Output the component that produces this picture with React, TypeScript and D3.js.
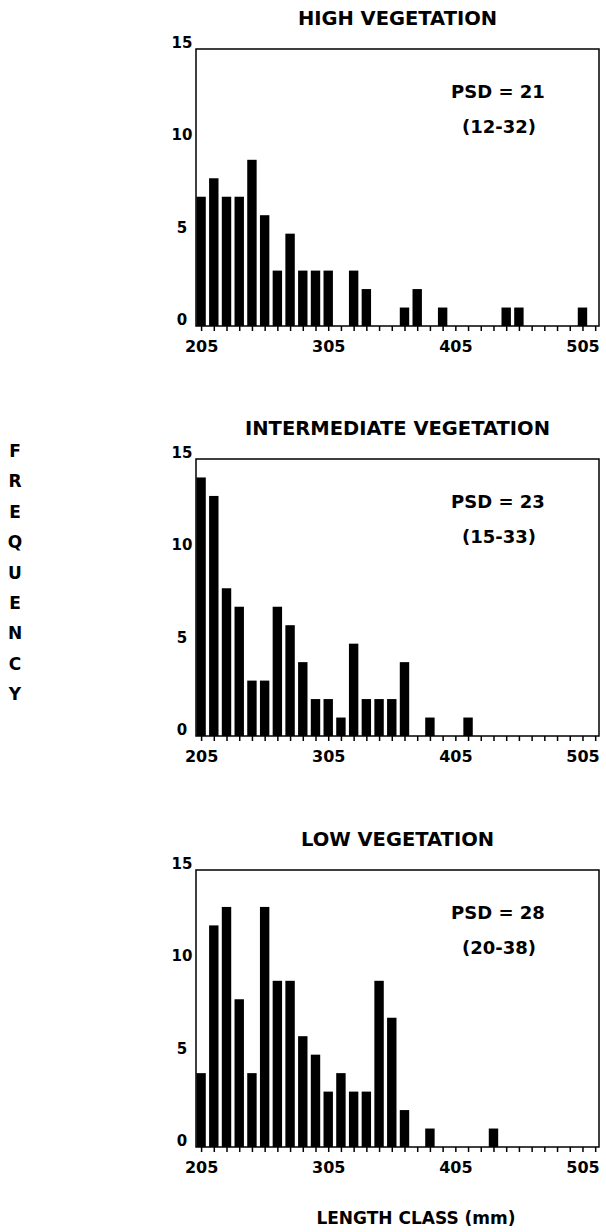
import React, { useEffect, useRef } from 'react'
import * as d3 from 'd3'

// length class centres (mm), one bar per 10 mm class
const lengthClasses = d3.range(205, 506, 10)
const xTickValues = d3.range(205, 516, 10)
const xLabelValues = [205, 305, 405, 505]
const yTickValues = [0, 5, 10, 15]

const panelTitles = ['HIGH VEGETATION', 'INTERMEDIATE VEGETATION', 'LOW VEGETATION']
const psdValues = ['PSD = 21', 'PSD = 23', 'PSD = 28']
const psdRanges = ['(12-32)', '(15-33)', '(20-38)']

const highVeg = [7, 8, 7, 7, 9, 6, 3, 5, 3, 3, 3, 0, 3, 2, 0, 0, 1, 2, 0, 1, 0, 0, 0, 0, 1, 1, 0, 0, 0, 0, 1]
const intermediateVeg = [14, 13, 8, 7, 3, 3, 7, 6, 4, 2, 2, 1, 5, 2, 2, 2, 4, 0, 1, 0, 0, 1, 0, 0, 0, 0, 0, 0, 0, 0, 0]
const lowVeg = [4, 12, 13, 8, 4, 13, 9, 9, 6, 5, 3, 4, 3, 3, 9, 7, 2, 0, 1, 0, 0, 0, 0, 1, 0, 0, 0, 0, 0, 0, 0]

const series = [highVeg, intermediateVeg, lowVeg]

const W = 606
const H = 1232
const left = 196
const right = 599
const panelTops = [49, 459, 870]
const plotH = 277
const FONT = '"DejaVu Sans", Arial, sans-serif'

const App = () => {
  const svgRef = useRef<SVGSVGElement>(null)

  useEffect(() => {
    const svg = d3.select(svgRef.current)
    svg.selectAll('*').remove()

    const x = d3.scaleLinear().domain([201, 518]).range([left, right])
    const barW = (x(215) - x(205)) * 0.74

    series.forEach((values, i) => {
      const top = panelTops[i]
      const bottom = top + plotH
      const y = d3.scaleLinear().domain([0, 15]).range([bottom, top])
      const g = svg.append('g')

      // title
      g.append('text')
        .attr('x', (left + right) / 2)
        .attr('y', top - 24)
        .attr('text-anchor', 'middle')
        .attr('font-size', 19.5)
        .attr('font-weight', 'bold')
        .text(panelTitles[i])

      // bars
      g.selectAll('.bar')
        .data(values.map((v, j) => ({ len: lengthClasses[j], v })).filter(d => d.v > 0))
        .join('rect')
        .attr('class', 'bar')
        .attr('x', d => x(d.len) - barW / 2)
        .attr('y', d => y(d.v))
        .attr('width', barW)
        .attr('height', d => bottom - y(d.v))
        .attr('fill', '#000')

      // frame
      g.append('rect')
        .attr('x', left)
        .attr('y', top)
        .attr('width', right - left)
        .attr('height', plotH)
        .attr('fill', 'none')
        .attr('stroke', '#000')
        .attr('stroke-width', 1.5)

      // x axis
      const xAxis = d3.axisBottom(x)
        .tickValues(xTickValues)
        .tickSize(5)
        .tickPadding(10)
        .tickFormat(d => (xLabelValues.includes(+d) ? String(d) : ''))
      const xg = g.append('g').attr('transform', `translate(0,${bottom})`).call(xAxis)
      xg.select('.domain').remove()
      xg.selectAll('line').attr('stroke-width', 1.5)
      xg.selectAll('text')
        .attr('font-size', 16)
        .attr('font-weight', 'bold')
        .attr('font-family', FONT)
        .attr('fill', '#000')

      // y axis labels
      g.selectAll('.ylab')
        .data(yTickValues)
        .join('text')
        .attr('class', 'ylab')
        .attr('x', 182)
        .attr('y', d => y(d) - 1)
        .attr('text-anchor', 'middle')
        .attr('font-size', 15)
        .attr('font-weight', 'bold')
        .text(d => d)

      // PSD annotation
      g.append('text')
        .attr('x', 498)
        .attr('y', top + 49)
        .attr('text-anchor', 'middle')
        .attr('font-size', 18)
        .attr('font-weight', 'bold')
        .text(psdValues[i])
      g.append('text')
        .attr('x', 499)
        .attr('y', top + 84)
        .attr('text-anchor', 'middle')
        .attr('font-size', 18)
        .attr('font-weight', 'bold')
        .text(psdRanges[i])
    })

    // vertical FREQUENCY label
    const letters = 'FREQUENCY'.split('')
    svg.selectAll('.freq')
      .data(letters)
      .join('text')
      .attr('class', 'freq')
      .attr('x', 15)
      .attr('y', (d, i) => 457 + i * 30.4)
      .attr('text-anchor', 'middle')
      .attr('font-size', 17)
      .attr('font-weight', 'bold')
      .text(d => d)

    svg.append('text')
      .attr('x', 416)
      .attr('y', 1224)
      .attr('text-anchor', 'middle')
      .attr('font-size', 17)
      .attr('font-weight', 'bold')
      .text('LENGTH CLASS (mm)')
  }, [])

  return (
    <svg
      ref={svgRef}
      width={W}
      height={H}
      fontFamily={FONT}
      style={{ position: 'absolute', left: 0, top: 0, background: '#fff' }}
    />
  )
}

export default App
